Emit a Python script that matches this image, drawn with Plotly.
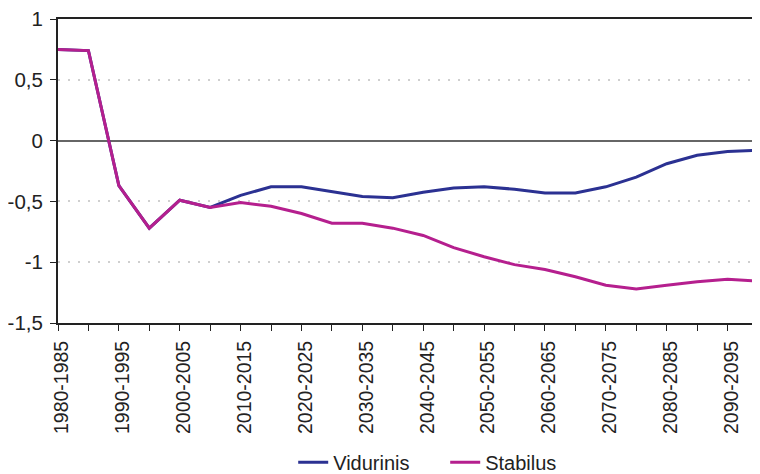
import plotly.graph_objects as go

periods = [f"{y}-{y + 5}" for y in range(1980, 2100, 5)]
tick_labels = [p if i % 2 == 0 else "" for i, p in enumerate(periods)]
y_ticks = [-1.5, -1, -0.5, 0, 0.5, 1]
y_labels = ["-1,5", "-1", "-0,5", "0", "0,5", "1"]

vidurinis = [0.75, 0.74, -0.37, -0.72, -0.49, -0.55, -0.45, -0.38, -0.38, -0.42,
             -0.46, -0.47, -0.425, -0.39, -0.38, -0.40, -0.43, -0.43, -0.38, -0.30,
             -0.19, -0.12, -0.09, -0.08]
stabilus = [0.75, 0.74, -0.37, -0.72, -0.49, -0.55, -0.51, -0.54, -0.60, -0.68,
            -0.68, -0.72, -0.78, -0.88, -0.955, -1.02, -1.06, -1.12, -1.19, -1.22,
            -1.19, -1.16, -1.14, -1.155]

fig = go.Figure()
fig.add_trace(go.Scatter(x=periods, y=vidurinis, mode="lines", name="Vidurinis",
                         line=dict(color="#2b3192", width=3)))
fig.add_trace(go.Scatter(x=periods, y=stabilus, mode="lines", name="Stabilus",
                         line=dict(color="#b51f8e", width=3)))

# the page body adds 8px; the figure is made a bit larger than the window so the
# legend never pushes the margins, the overflow is simply cut off
fig.update_layout(
    width=760, height=495,
    margin=dict(l=50, r=10, t=11, b=180),
    paper_bgcolor="white", plot_bgcolor="white",
    font=dict(family="Liberation Sans, Arial, sans-serif", size=19, color="#222"),
    showlegend=True,
    legend=dict(orientation="h", x=0.336, xanchor="left", y=-0.458, yanchor="middle",
                font=dict(size=20), entrywidth=107, entrywidthmode="pixels"),
    xaxis=dict(type="category", range=[0, len(periods) - 1], automargin=False,
               tickmode="array", tickvals=periods, ticktext=tick_labels,
               tickangle=-90, ticks="outside", ticklen=6, tickcolor="#222",
               tickfont=dict(size=19.5), ticklabelstandoff=2, ticklabelshift=4,
               showline=True, linecolor="#222", linewidth=2, mirror=True,
               showgrid=False, zeroline=False),
    yaxis=dict(range=[-1.5, 1], automargin=False, ticklabeloverflow="allow",
               tickmode="array", tickvals=y_ticks, ticktext=y_labels,
               ticks="outside", ticklen=6, tickcolor="#222", tickfont=dict(size=20.5),
               ticklabelstandoff=3,
               showline=True, linecolor="#222", linewidth=2, mirror=True,
               showgrid=True, gridcolor="#cfcfcf", griddash="2px,8px", gridwidth=1.5,
               zeroline=True, zerolinecolor="#666", zerolinewidth=1.5),
)

fig.write_html("out.html")
